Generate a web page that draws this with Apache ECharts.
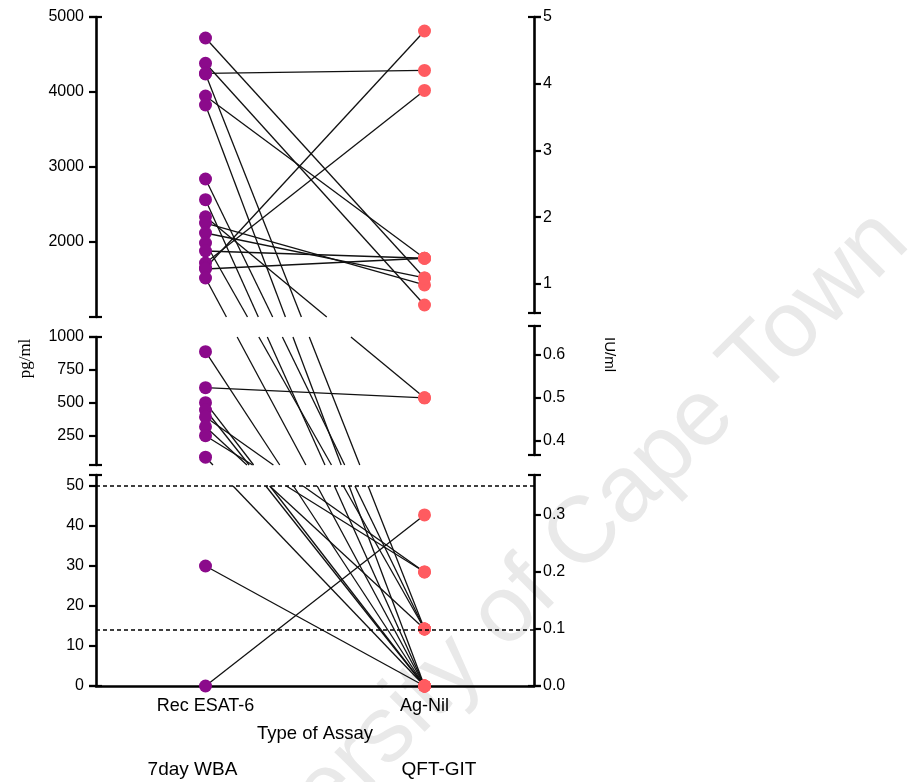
<!DOCTYPE html>
<html>
<head>
<meta charset="utf-8">
<script src="https://cdn.jsdelivr.net/npm/echarts@6/dist/echarts.min.js"></script>
<style>
  html, body { margin: 0; padding: 0; background: #fff; }
  #chart { width: 922px; height: 782px; }
</style>
</head>
<body>
<div id="chart"></div>
<script>
// Assay names and group captions
const categories = ['Rec ESAT-6', 'Ag-Nil'];
const groupLabels = ['7day WBA', 'QFT-GIT'];

// One entry per participant: 7-day whole blood assay (pg/ml) and QFT-GIT (IU/ml)
const wbaValues = [4720, 4383, 4249, 4240, 3947, 3827, 2840, 2564, 2337, 2253, 2120, 1987, 1880, 1720, 1653, 1640, 1520,
                   889, 616, 502, 447, 394, 320, 252, 89, 30, 0];
const qftValues = [1.09, 0.685, 4.20, 0.1, 1.385, 0, 0.1, 0, 0.5, 0.985, 1.09, 0.1, 1.385, 3.90, 4.79, 1.385, 0,
                   0, 0.5, 0, 0, 0.2, 0.1, 0.2, 0, 0, 0.3];

// Tick labels of the broken axes (top, middle, bottom segment)
const leftTicks = [[2000, 3000, 4000, 5000], [250, 500, 750, 1000], [0, 10, 20, 30, 40, 50]];
const rightTicks = [[1, 2, 3, 4, 5], [0.4, 0.5, 0.6], [0, 0.1, 0.2, 0.3]];

// Value range of each axis segment
const leftRanges = [[1000, 5000], [30, 1000], [0, 52.75]];
const rightRanges = [[0.565, 5], [0.367, 0.667], [0, 0.37]];
// Part of each left segment in which the connecting lines are drawn
const leftBands = [[1000, 5000], [30, 1000], [0, 50]];

// Dashed cut-off lines (pg/ml)
const cutoffs = [50, 14];

// ---- layout ----
const PLOT_LEFT = 96, PLOT_RIGHT = 388;
const leftBoxes = [{ top: 17, height: 300 }, { top: 337, height: 128 }, { top: 475, height: 211 }];
const rightBoxes = [{ top: 17, height: 296 }, { top: 326, height: 129 }, { top: 475, height: 211 }];

const FONT = 'Liberation Sans, Arial, sans-serif';
const AXIS_W = 2.6;
const chart = echarts.init(document.getElementById('chart'), null, { renderer: 'canvas' });

function leftSeg(v) { return v > 1000 ? 0 : (v > 50 ? 1 : 2); }
function rightSeg(v) { return v > 0.667 ? 0 : (v > 0.367 ? 1 : 2); }

const grids = [];
const xAxes = [];
const yAxes = [];

function fmtRight(seg) {
  return seg === 0 ? (v => String(Math.round(v))) : (v => v.toFixed(1));
}

function addSegment(box, range, ticks, side, seg) {
  const g = grids.length;
  grids.push({ left: PLOT_LEFT, right: PLOT_RIGHT, top: box.top, height: box.height });
  const isBottom = seg === 2 && side === 'left';
  xAxes.push({
    gridIndex: g, type: 'category', data: categories, show: isBottom,
    axisLine: { lineStyle: { color: '#000', width: AXIS_W } },
    axisTick: { alignWithLabel: true, length: 5, lineStyle: { color: '#000', width: 2 } },
    axisLabel: { color: '#000', fontFamily: FONT, fontSize: 18, margin: 11 },
    name: isBottom ? 'Type of Assay' : '', nameLocation: 'middle', nameGap: 38,
    nameTextStyle: { color: '#000', fontFamily: FONT, fontSize: 18.5 }
  });
  const ends = [range[0], range[1]];
  // main axis: line, outside ticks, labels
  yAxes.push({
    gridIndex: g, type: 'value', position: side, min: range[0], max: range[1],
    splitLine: { show: false },
    axisLine: { show: true, lineStyle: { color: '#000', width: AXIS_W } },
    axisTick: { show: true, length: 7, customValues: ticks.concat(ends), lineStyle: { color: '#000', width: 2.2 } },
    axisLabel: {
      show: true, customValues: ticks, color: '#000', fontFamily: FONT, fontSize: 16,
      margin: side === 'left' ? 12 : 9,
      formatter: side === 'left' ? (v => String(v)) : fmtRight(seg)
    }
  });
  // end caps: short inside ticks at both ends of the segment
  yAxes.push({
    gridIndex: g, type: 'value', position: side, min: range[0], max: range[1],
    splitLine: { show: false }, axisLine: { show: false }, axisLabel: { show: false },
    axisTick: { show: true, inside: true, length: 6, customValues: ends, lineStyle: { color: '#000', width: 2.2 } }
  });
  return g;
}

for (let s = 0; s < 3; s++) addSegment(leftBoxes[s], leftRanges[s], leftTicks[s], 'left', s);
for (let s = 0; s < 3; s++) addSegment(rightBoxes[s], rightRanges[s], rightTicks[s], 'right', s);

// full-height frame carrying the axis titles
grids.push({ left: PLOT_LEFT, right: PLOT_RIGHT, top: 17, height: 669 });
xAxes.push({ gridIndex: 6, type: 'category', data: categories, show: false });
yAxes.push({
  gridIndex: 6, type: 'value', position: 'left', axisLine: { show: false }, axisTick: { show: false },
  axisLabel: { show: false }, splitLine: { show: false },
  name: 'pg/ml', nameLocation: 'middle', nameGap: 62, nameRotate: 90,
  nameTextStyle: { color: '#000', fontFamily: 'Liberation Serif, Times New Roman, serif', fontSize: 17, padding: [0, 14, 0, 0] }
});
yAxes.push({
  gridIndex: 6, type: 'value', position: 'right', axisLine: { show: false }, axisTick: { show: false },
  axisLabel: { show: false }, splitLine: { show: false },
  name: 'IU/ml', nameLocation: 'middle', nameGap: 68, nameRotate: -90,
  nameTextStyle: { color: '#000', fontFamily: FONT, fontSize: 15, padding: [0, 0, 0, 6] }
});
// group captions under the assay labels
xAxes.push({
  gridIndex: 2, type: 'category', data: groupLabels, position: 'bottom', offset: 66,
  axisLine: { show: false }, axisTick: { show: false },
  axisLabel: {
    color: '#000', fontFamily: FONT, fontSize: 19,
    formatter: (v, i) => (i === 0 ? '{a|' + v + '}' : '{b|' + v + '}'),
    rich: {
      a: { color: '#000', fontFamily: FONT, fontSize: 19, padding: [0, 26, 0, 0] },
      b: { color: '#000', fontFamily: FONT, fontSize: 19, padding: [0, 0, 0, 29] }
    }
  }
});

const LEFT_COLOR = '#8b0a8b';
const RIGHT_COLOR = '#ff5b60';

const series = [];
for (let s = 0; s < 3; s++) {
  const pts = wbaValues.filter(v => leftSeg(v) === s).map(v => [categories[0], v]);
  const ser = {
    type: 'scatter', xAxisIndex: s, yAxisIndex: 2 * s, data: pts, symbolSize: 13, z: 4,
    itemStyle: { color: LEFT_COLOR, opacity: 1 }, clip: false, silent: true
  };
  if (s === 2) {
    ser.markLine = {
      silent: true, symbol: 'none', label: { show: false },
      lineStyle: { color: '#000', type: [4, 3], width: 1.6 },
      data: cutoffs.map(c => ({ yAxis: c }))
    };
  }
  series.push(ser);
}
for (let s = 0; s < 3; s++) {
  const pts = qftValues.filter(v => rightSeg(v) === s).map(v => [categories[1], v]);
  series.push({
    type: 'scatter', xAxisIndex: 3 + s, yAxisIndex: 2 * (3 + s), data: pts, symbolSize: 13, z: 4,
    itemStyle: { color: RIGHT_COLOR, opacity: 1 }, clip: false, silent: true
  });
}

chart.setOption({
  animation: false,
  backgroundColor: '#fff',
  grid: grids, xAxis: xAxes, yAxis: yAxes, series: series,
  graphic: [{
    type: 'text', x: 535, y: 585, rotation: Math.PI / 4, z: -10, silent: true,
    style: {
      text: 'University of Cape Town', font: '94px Liberation Sans, Arial, sans-serif', fill: '#e9e9e9',
      align: 'center', verticalAlign: 'middle', textAlign: 'center', textVerticalAlign: 'middle'
    }
  }]
});

// connecting lines: pixel positions come from the segment axes
function leftPixel(v) {
  const s = leftSeg(v);
  return chart.convertToPixel({ xAxisIndex: s, yAxisIndex: 2 * s }, [categories[0], v]);
}
function rightPixel(v) {
  const s = rightSeg(v);
  return chart.convertToPixel({ xAxisIndex: 3 + s, yAxisIndex: 2 * (3 + s) }, [categories[1], v]);
}
const bandPixels = leftBands.map((b, s) => [
  chart.convertToPixel({ yAxisIndex: 2 * s }, b[1]),
  chart.convertToPixel({ yAxisIndex: 2 * s }, b[0])
]);

function renderLink(params, api) {
  const i = api.value(0);
  const p1 = leftPixel(wbaValues[i]);
  const p2 = rightPixel(qftValues[i]);
  const children = [];
  bandPixels.forEach(([yTop, yBot]) => {
    const dy = p2[1] - p1[1];
    let t0 = 0, t1 = 1;
    if (Math.abs(dy) < 1e-9) {
      if (p1[1] < yTop || p1[1] > yBot) return;
    } else {
      let ta = (yTop - p1[1]) / dy, tb = (yBot - p1[1]) / dy;
      if (ta > tb) { const t = ta; ta = tb; tb = t; }
      t0 = Math.max(0, ta); t1 = Math.min(1, tb);
      if (t1 <= t0) return;
    }
    children.push({
      type: 'line',
      shape: {
        x1: p1[0] + (p2[0] - p1[0]) * t0, y1: p1[1] + dy * t0,
        x2: p1[0] + (p2[0] - p1[0]) * t1, y2: p1[1] + dy * t1
      },
      style: { stroke: '#111', lineWidth: 1.3 }
    });
  });
  return { type: 'group', children: children };
}

series.push({
  type: 'custom', coordinateSystem: 'none', silent: true, z: 3,
  data: wbaValues.map((v, i) => [i]),
  renderItem: renderLink
});
chart.setOption({ series: series });
</script>
</body>
</html>
